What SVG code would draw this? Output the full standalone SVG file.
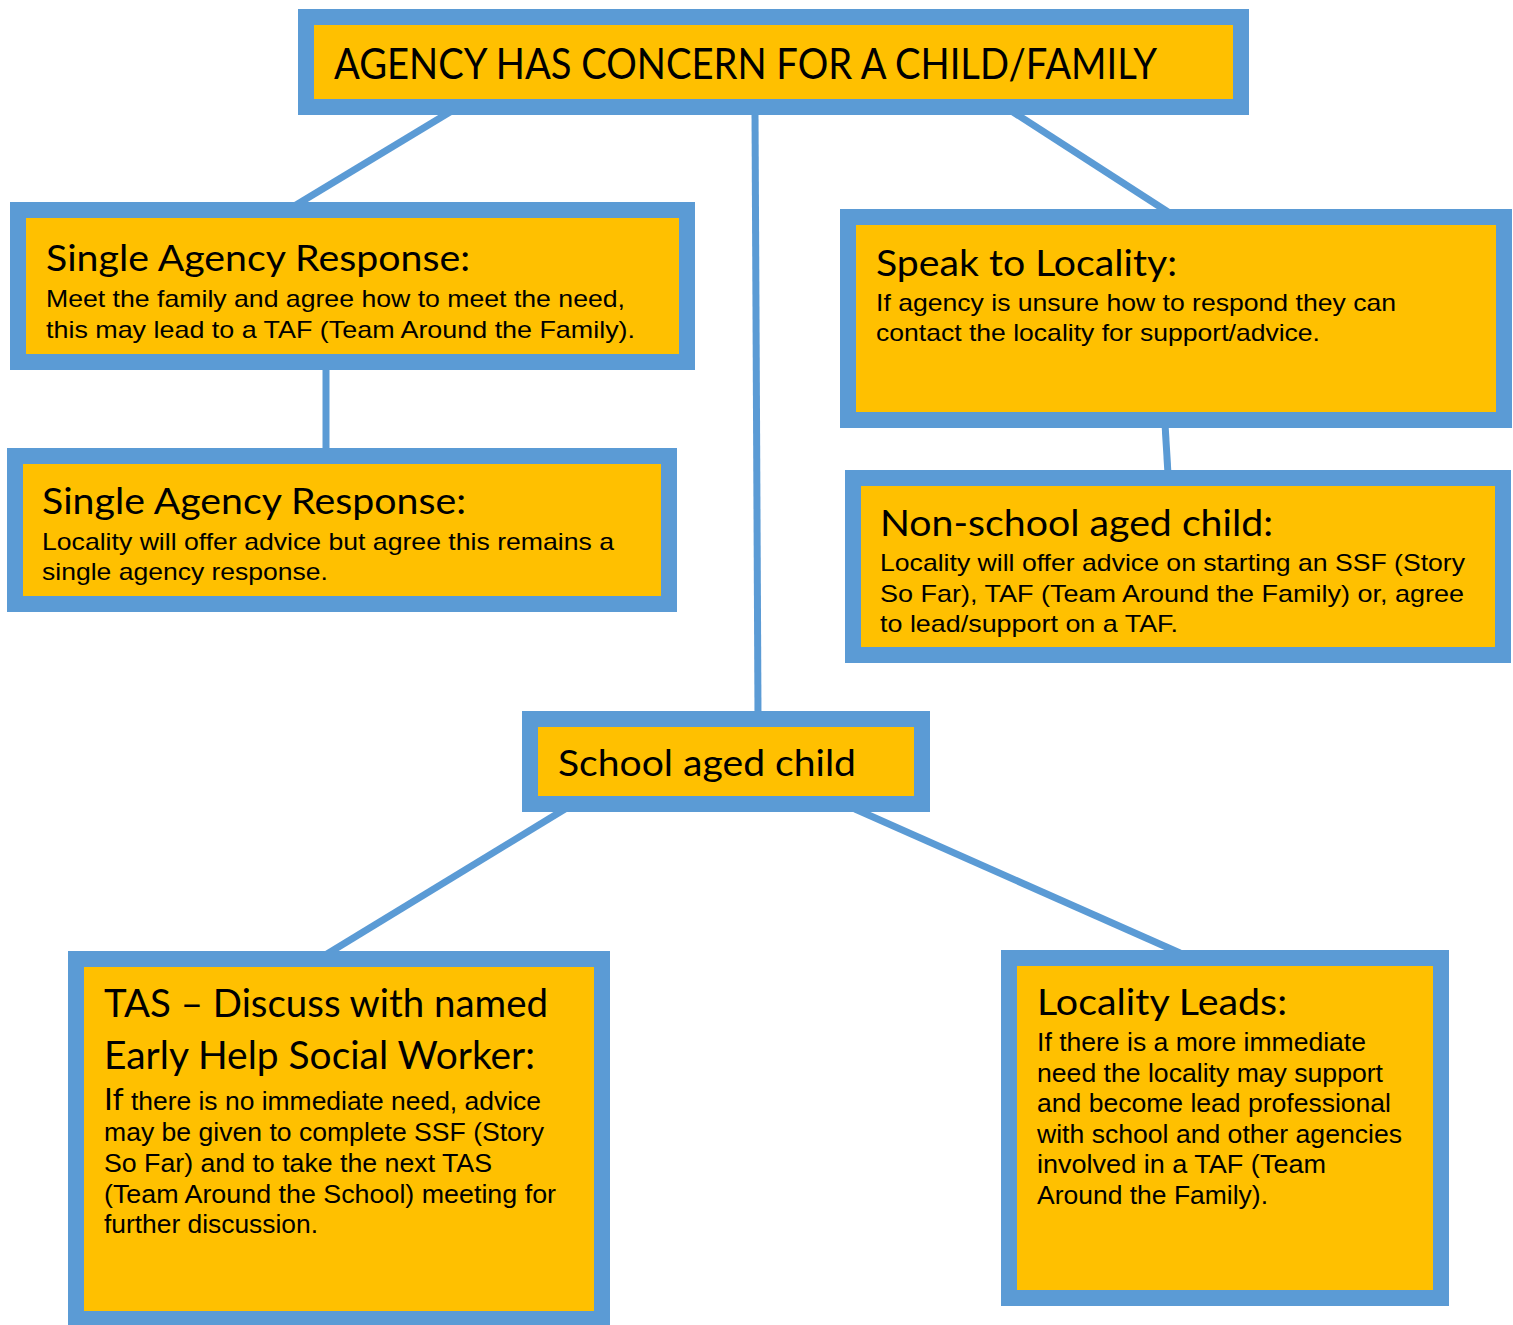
<svg xmlns="http://www.w3.org/2000/svg" width="1513" height="1325" viewBox="0 0 1513 1325">
<style>
.box{fill:#FFC000;stroke:#5B9BD5;stroke-width:16}
.conn line{stroke:#5B9BD5;stroke-width:7}
.h{font-family:Lato,"Open Sans","DejaVu Sans",sans-serif;fill:#000}
.b{font-family:"Liberation Sans",Arial,sans-serif;fill:#000;font-size:24px}
.bt{font-family:"Liberation Sans",Arial,sans-serif;fill:#000;font-size:25px}
</style>
<rect width="1513" height="1325" fill="#fff"/>
<g id="connectors" class="conn">
<line x1="450" y1="112" x2="296" y2="205"/>
<line x1="755" y1="112" x2="758" y2="714"/>
<line x1="1013" y1="112" x2="1168" y2="212"/>
<line x1="326" y1="366" x2="326" y2="452"/>
<line x1="1165" y1="424" x2="1168" y2="474"/>
<line x1="565" y1="809" x2="327" y2="954"/>
<line x1="855" y1="809" x2="1180" y2="953"/>
</g>
<g id="top">
<rect class="box" x="306" y="17" width="935" height="90"/>
<text class="h" x="334" y="79" font-size="42" textLength="823" lengthAdjust="spacingAndGlyphs">AGENCY HAS CONCERN FOR A CHILD/FAMILY</text>
</g>
<g id="single1">
<rect class="box" x="18" y="210" width="669" height="152"/>
<text class="h" x="46" y="271" font-size="37" textLength="424" lengthAdjust="spacingAndGlyphs">Single Agency Response:</text>
<text class="b" x="46" y="307" textLength="579" lengthAdjust="spacingAndGlyphs">Meet the family and agree how to meet the need,</text>
<text class="b" x="46" y="338" textLength="589" lengthAdjust="spacingAndGlyphs">this may lead to a TAF (Team Around the Family).</text>
</g>
<g id="single2">
<rect class="box" x="15" y="456" width="654" height="148"/>
<text class="h" x="42" y="514" font-size="37" textLength="424" lengthAdjust="spacingAndGlyphs">Single Agency Response:</text>
<text class="b" x="42" y="550" textLength="572" lengthAdjust="spacingAndGlyphs">Locality will offer advice but agree this remains a</text>
<text class="b" x="42" y="580" textLength="286" lengthAdjust="spacingAndGlyphs">single agency response.</text>
</g>
<g id="speak">
<rect class="box" x="848" y="217" width="656" height="203"/>
<text class="h" x="876" y="276" font-size="37" textLength="301" lengthAdjust="spacingAndGlyphs">Speak to Locality:</text>
<text class="b" x="876" y="311" textLength="520" lengthAdjust="spacingAndGlyphs">If agency is unsure how to respond they can</text>
<text class="b" x="876" y="341" textLength="444" lengthAdjust="spacingAndGlyphs">contact the locality for support/advice.</text>
</g>
<g id="nonschool">
<rect class="box" x="853" y="478" width="650" height="177"/>
<text class="h" x="880" y="536" font-size="37" textLength="393" lengthAdjust="spacingAndGlyphs">Non-school aged child:</text>
<text class="b" x="880" y="571" textLength="585" lengthAdjust="spacingAndGlyphs">Locality will offer advice on starting an SSF (Story</text>
<text class="b" x="880" y="602" textLength="584" lengthAdjust="spacingAndGlyphs">So Far), TAF (Team Around the Family) or, agree</text>
<text class="b" x="880" y="632" textLength="298" lengthAdjust="spacingAndGlyphs">to lead/support on a TAF.</text>
</g>
<g id="school">
<rect class="box" x="530" y="719" width="392" height="85"/>
<text class="h" x="558" y="776" font-size="37" textLength="298" lengthAdjust="spacingAndGlyphs">School aged child</text>
</g>
<g id="tas">
<rect class="box" x="76" y="959" width="526" height="360"/>
<text class="h" x="104" y="1017" font-size="39" textLength="444" lengthAdjust="spacingAndGlyphs">TAS – Discuss with named</text>
<text class="h" x="104" y="1069" font-size="39" textLength="431" lengthAdjust="spacingAndGlyphs">Early Help Social Worker:</text>
<text class="bt" x="104" y="1110" textLength="437" lengthAdjust="spacingAndGlyphs"><tspan font-family="Lato, sans-serif" font-size="30">If</tspan> there is no immediate need, advice</text>
<text class="bt" x="104" y="1141" textLength="440" lengthAdjust="spacingAndGlyphs">may be given to complete SSF (Story</text>
<text class="bt" x="104" y="1172" textLength="388" lengthAdjust="spacingAndGlyphs">So Far) and to take the next TAS</text>
<text class="bt" x="104" y="1203" textLength="452" lengthAdjust="spacingAndGlyphs">(Team Around the School) meeting for</text>
<text class="bt" x="104" y="1233" textLength="214" lengthAdjust="spacingAndGlyphs">further discussion.</text>
</g>
<g id="leads">
<rect class="box" x="1009" y="958" width="432" height="340"/>
<text class="h" x="1037" y="1015" font-size="37" textLength="250" lengthAdjust="spacingAndGlyphs">Locality Leads:</text>
<text class="bt" x="1037" y="1051" textLength="329" lengthAdjust="spacingAndGlyphs">If there is a more immediate</text>
<text class="bt" x="1037" y="1082" textLength="346" lengthAdjust="spacingAndGlyphs">need the locality may support</text>
<text class="bt" x="1037" y="1112" textLength="354" lengthAdjust="spacingAndGlyphs">and become lead professional</text>
<text class="bt" x="1037" y="1143" textLength="365" lengthAdjust="spacingAndGlyphs">with school and other agencies</text>
<text class="bt" x="1037" y="1173" textLength="289" lengthAdjust="spacingAndGlyphs">involved in a TAF (Team</text>
<text class="bt" x="1037" y="1204" textLength="231" lengthAdjust="spacingAndGlyphs">Around the Family).</text>
</g>
</svg>
